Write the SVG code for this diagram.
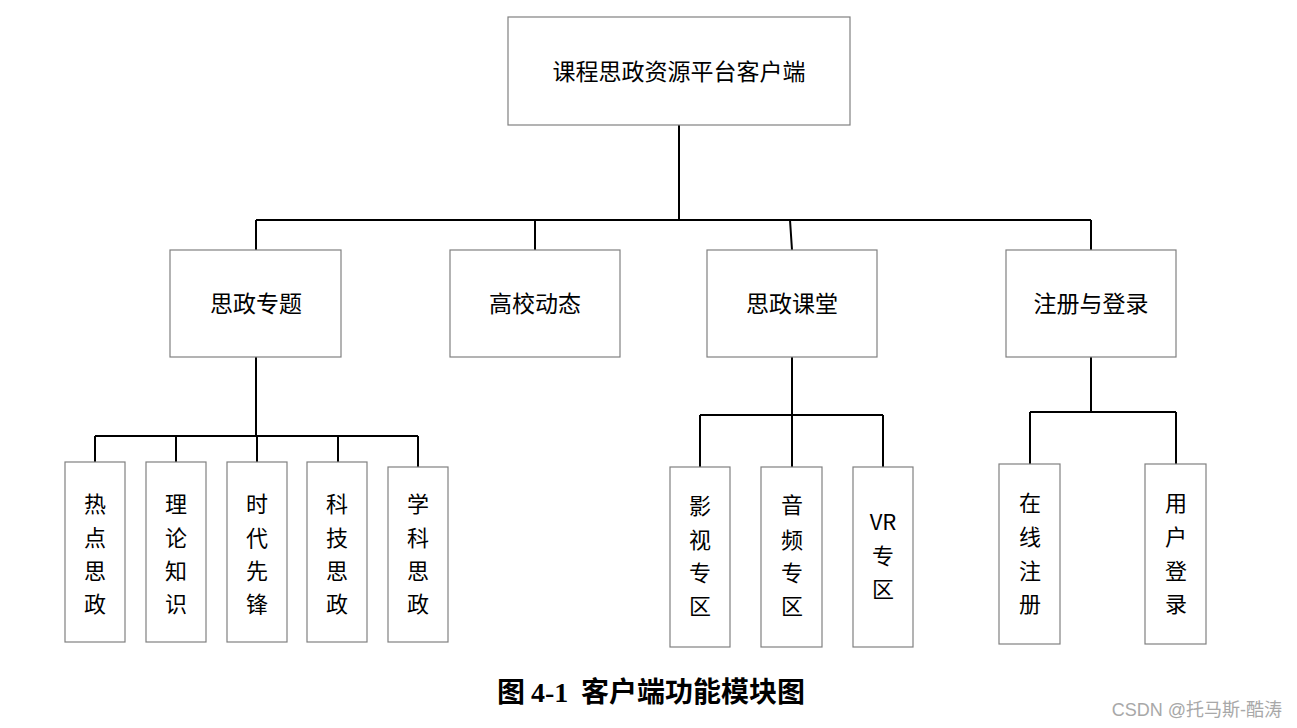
<svg xmlns="http://www.w3.org/2000/svg" width="1297" height="728" viewBox="0 0 1297 728">
<style>
.box{fill:#fff;stroke:#808080;stroke-width:1.2}
.ln{fill:none;stroke:#000;stroke-width:2}
.t{font-family:"Noto Sans CJK SC","Liberation Sans",sans-serif;font-size:23px;fill:#000;text-anchor:middle}
.v{font-family:"Noto Sans CJK SC","Liberation Sans",sans-serif;font-size:22px;fill:#000;text-anchor:middle}
.cap{font-family:"Liberation Serif","Noto Sans CJK SC",serif;font-size:28px;font-weight:bold;fill:#000}
.wm{font-family:"Liberation Sans","Noto Sans CJK SC",sans-serif;font-size:18px;fill:#a8a8a8;text-anchor:end}
</style>
<rect width="1297" height="728" fill="#fff"/>
<g id="connectors">
<path class="ln" d="M679,125 V220 M256,220 H1091 M256,220 V250 M535,220 V250 M790,220 L792,250 M1091,220 V250"/>
<path class="ln" d="M256,357 V436 M95,436 H418 M95,436 V462 M176,436 V462 M257,436 V462 M338,436 V462 M418,436 V467"/>
<path class="ln" d="M792,357 V467 M700,415 H883 M700,415 V467 M883,415 V467"/>
<path class="ln" d="M1091,357 V412 M1030,412 H1176 M1030,412 V464 M1176,412 V464"/>
</g>
<g id="root"><rect class="box" x="508" y="17" width="342" height="108"/><text class="t" x="679" y="80">课程思政资源平台客户端</text></g>
<g id="n1"><rect class="box" x="170" y="250" width="171" height="107"/><text class="t" x="256" y="312">思政专题</text></g>
<g id="n2"><rect class="box" x="450" y="250" width="170" height="107"/><text class="t" x="535" y="312">高校动态</text></g>
<g id="n3"><rect class="box" x="707" y="250" width="170" height="107"/><text class="t" x="792" y="312">思政课堂</text></g>
<g id="n4"><rect class="box" x="1006" y="250" width="170" height="107"/><text class="t" x="1091" y="312">注册与登录</text></g>
<g id="l1"><rect class="box" x="65" y="462" width="60" height="180"/><text class="v"><tspan x="95" y="512">热</tspan><tspan x="95" y="546">点</tspan><tspan x="95" y="579">思</tspan><tspan x="95" y="612">政</tspan></text></g>
<g id="l2"><rect class="box" x="146" y="462" width="60" height="180"/><text class="v"><tspan x="176" y="512">理</tspan><tspan x="176" y="546">论</tspan><tspan x="176" y="579">知</tspan><tspan x="176" y="612">识</tspan></text></g>
<g id="l3"><rect class="box" x="227" y="462" width="60" height="180"/><text class="v"><tspan x="257" y="512">时</tspan><tspan x="257" y="546">代</tspan><tspan x="257" y="579">先</tspan><tspan x="257" y="612">锋</tspan></text></g>
<g id="l4"><rect class="box" x="307" y="462" width="60" height="180"/><text class="v"><tspan x="337" y="512">科</tspan><tspan x="337" y="546">技</tspan><tspan x="337" y="579">思</tspan><tspan x="337" y="612">政</tspan></text></g>
<g id="l5"><rect class="box" x="388" y="467" width="60" height="175"/><text class="v"><tspan x="418" y="512">学</tspan><tspan x="418" y="546">科</tspan><tspan x="418" y="579">思</tspan><tspan x="418" y="612">政</tspan></text></g>
<g id="l6"><rect class="box" x="670" y="467" width="60" height="180"/><text class="v"><tspan x="700" y="514">影</tspan><tspan x="700" y="548">视</tspan><tspan x="700" y="581">专</tspan><tspan x="700" y="614">区</tspan></text></g>
<g id="l7"><rect class="box" x="761" y="467" width="61" height="180"/><text class="v"><tspan x="792" y="513">音</tspan><tspan x="792" y="548">频</tspan><tspan x="792" y="581">专</tspan><tspan x="792" y="614">区</tspan></text></g>
<g id="l8"><rect class="box" x="853" y="467" width="60" height="180"/><text class="v"><tspan x="883" y="530">VR</tspan><tspan x="883" y="564">专</tspan><tspan x="883" y="597">区</tspan></text></g>
<g id="l9"><rect class="box" x="999" y="464" width="61" height="180"/><text class="v"><tspan x="1030" y="511">在</tspan><tspan x="1030" y="545">线</tspan><tspan x="1030" y="579">注</tspan><tspan x="1030" y="612">册</tspan></text></g>
<g id="l10"><rect class="box" x="1145" y="464" width="61" height="180"/><text class="v"><tspan x="1176" y="511">用</tspan><tspan x="1176" y="545">户</tspan><tspan x="1176" y="579">登</tspan><tspan x="1176" y="612">录</tspan></text></g>
<text class="cap"><tspan x="497" y="702">图</tspan><tspan x="531" y="702">4-1</tspan><tspan x="581" y="702">客户端功能模块图</tspan></text>
<text class="wm" x="1282" y="716">CSDN @托马斯-酷涛</text>
</svg>
